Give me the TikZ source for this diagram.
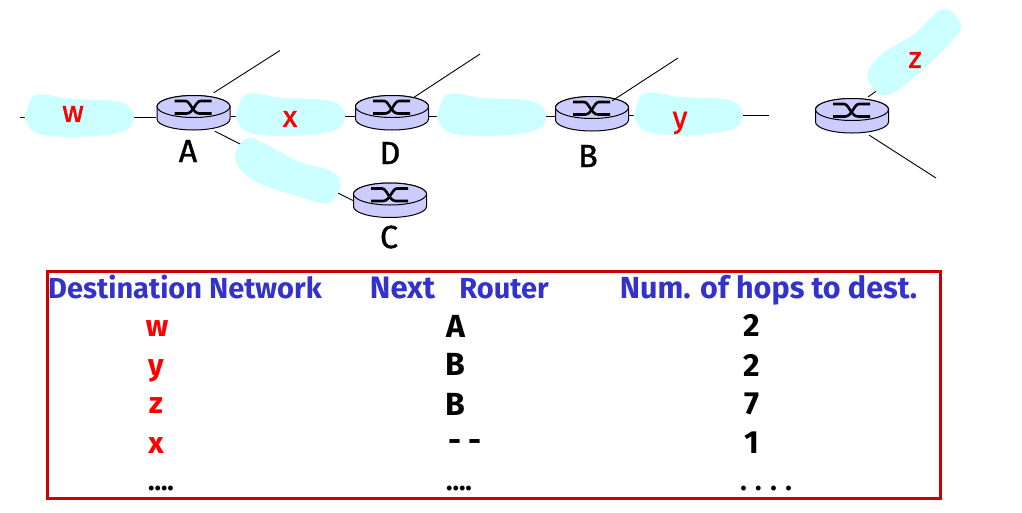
\documentclass[tikz,border=0pt]{standalone}
\usepackage{fontspec}
\setmainfont{Fira Sans}
\newfontfamily\labelfont[FakeBold=1.3]{Fira Sans}
\definecolor{blobc}{HTML}{CCFFFF}
\definecolor{routerc}{HTML}{CCCCFF}
\definecolor{boxc}{HTML}{CC0000}
\definecolor{headc}{HTML}{3333CC}
\tikzset{
  linkline/.style={draw=black,line width=0.9pt},
  blob/.style={fill=blobc,draw=none},
  slot/.style={inner sep=0pt,minimum width=74pt,minimum height=36pt},
  netname/.style={text=red,font=\labelfont\fontsize{30}{30}\selectfont,inner sep=0pt},
  routername/.style={text=black,font=\labelfont\fontsize{32}{32}\selectfont,inner sep=0pt},
  head/.style={text=headc,font=\bfseries\fontsize{29}{29}\selectfont,inner sep=0pt,anchor=base},
  rowred/.style={text=red,font=\bfseries\fontsize{30}{30}\selectfont,inner sep=0pt},
  rowblack/.style={text=black,font=\bfseries\fontsize{32}{32}\selectfont,inner sep=0pt},
  dotsrow/.style={text=black,font=\bfseries\fontsize{27}{27}\selectfont,inner sep=0pt,anchor=base},
  pics/routerpic/.style={code={
    \path[fill=routerc,draw=black,line width=1pt]
      (-36.5,0) -- (-36.5,12.5) arc[start angle=180,end angle=0,x radius=36.5,y radius=11]
      -- (36.5,0) arc[start angle=360,end angle=180,x radius=36.5,y radius=11] -- cycle;
    \path[fill=routerc,draw=black,line width=1pt] (0,0) ellipse[x radius=36.5,y radius=11];
    \draw[line width=2.6pt] (-19,-5.5) -- (-8,-5.5) .. controls (-3,-5.5) and (-1,7) .. (6,7) -- (18,7);
    \draw[line width=2.6pt] (-19,7) -- (-7,7) .. controls (0,7) and (2,-5.5) .. (7,-5.5) -- (18,-5.5);
  }}
}
\newcommand{\lanblob}[2]{\fill[blob,shift={(#1pt,-#2pt)}] plot[smooth cycle,tension=0.6] coordinates {(237,113) (247,94) (283,98) (331,101) (345,115) (335,130) (293,136) (250,133) (237,120)};}
\begin{document}
\begin{tikzpicture}[x=1pt,y=-1pt]
\useasboundingbox (0,0) rectangle (1022,512);
% router slots
\node[slot] (A) at (193.5,113) {};
\node[slot] (D) at (392,113) {};
\node[slot] (C) at (390,200.5) {};
\node[slot] (B) at (592,114) {};
\node[slot] (R) at (852,116) {};
% free ends
\coordinate (wend) at (20,117);
\coordinate (yend) at (769,115);
\coordinate (aup) at (280,50.5);
\coordinate (dup) at (480,54);
\coordinate (bup) at (678,58);
\coordinate (rup) at (885,85);
\coordinate (rdown) at (936,178);
% connectors behind clouds
\draw[linkline] (wend) -- ([yshift=-4pt]A.west);
\draw[linkline] ([yshift=-3pt]A.east) -- ([yshift=-3pt]D.west);
\draw[linkline] ([yshift=-3pt]D.east) -- ([yshift=-2pt]B.west);
\draw[linkline] ([yshift=-1pt]B.east) -- (yend);
\draw[linkline] ([xshift=-16pt]A.south east) -- (C.west);
\draw[linkline] ([xshift=-21pt,yshift=1pt]R.north east) -- (rup);
\draw[linkline] ([xshift=-20pt,yshift=-1pt]R.south east) -- (rdown);
% clouds
\lanblob{-211}{1}
\lanblob{0}{0}
\lanblob{201}{0}
\lanblob{398}{-1}
\fill[blob] plot[smooth cycle,tension=0.6] coordinates {(235,158) (247,138) (267,145) (300,162) (333,172) (340,187) (328,203) (300,197) (253,180)};
\fill[blob] plot[smooth cycle,tension=0.6] coordinates {(868,72) (883,53) (913,35) (943,9) (961,25) (950,43) (917,75) (888,95) (873,88)};
% routers
\path (A.center) ++(0,-6.5) pic {routerpic};
\path (D.center) ++(0,-6.5) pic {routerpic};
\path (C.center) ++(0,-6.5) pic {routerpic};
\path (B.center) ++(0,-6.5) pic {routerpic};
\path (R.center) ++(0,-6.5) pic {routerpic};
\draw[linkline] ([xshift=-17pt,yshift=2pt]A.north east) -- (aup);
\draw[linkline] ([xshift=-16pt,yshift=-3pt]D.north east) -- (dup);
\draw[linkline] ([xshift=-17pt,yshift=-5pt]B.north east) -- (bup);
% labels
\node[netname] (lw) at (73,114) {w};
\node[netname] (lx) at (290,119) {x};
\node[netname] (ly) at (680,123) {y};
\node[netname] (lz) at (915,60) {z};
\node[routername] (la) at (188,151) {A};
\node[routername] (ld) at (390,153) {D};
\node[routername] (lb) at (588,156) {B};
\node[routername] (lc) at (389,237) {C};
% table
\node[draw=boxc,line width=3pt,inner sep=0pt,minimum width=893pt,minimum height=227pt] (tbl) at (494,385) {};
\node[head] (h1) at (185,298) {Destination Network};
\node[head,font=\bfseries\fontsize{31}{31}\selectfont] (h2) at (402.5,298) {Next};
\node[head] (h3) at (504,298) {Router};
\node[head,font=\bfseries\fontsize{30.5}{30.5}\selectfont] (h4) at (768.5,298) {Num. of hops to dest.};
\node[rowred] (r1) at (157,329) {w};
\node[rowred] (r2) at (156,371) {y};
\node[rowred] (r3) at (156,406) {z};
\node[rowred] (r4) at (156,446) {x};
\node[dotsrow] (r5) at (161,490) {....};
\node[rowblack] (n1) at (456,326) {A};
\node[rowblack] (n2) at (455,364) {B};
\node[rowblack] (n3) at (455,404) {B};
\node[rowblack] (n4) at (465,446) {- -};
\node[dotsrow] (n5) at (459,490) {....};
\node[rowblack] (d1) at (752,325) {2};
\node[rowblack] (d2) at (752,365) {2};
\node[rowblack] (d3) at (752,404) {7};
\node[rowblack] (d4) at (752,443) {1};
\node[dotsrow] (d5) at (766,490) {. . . .};
\end{tikzpicture}
\end{document}
